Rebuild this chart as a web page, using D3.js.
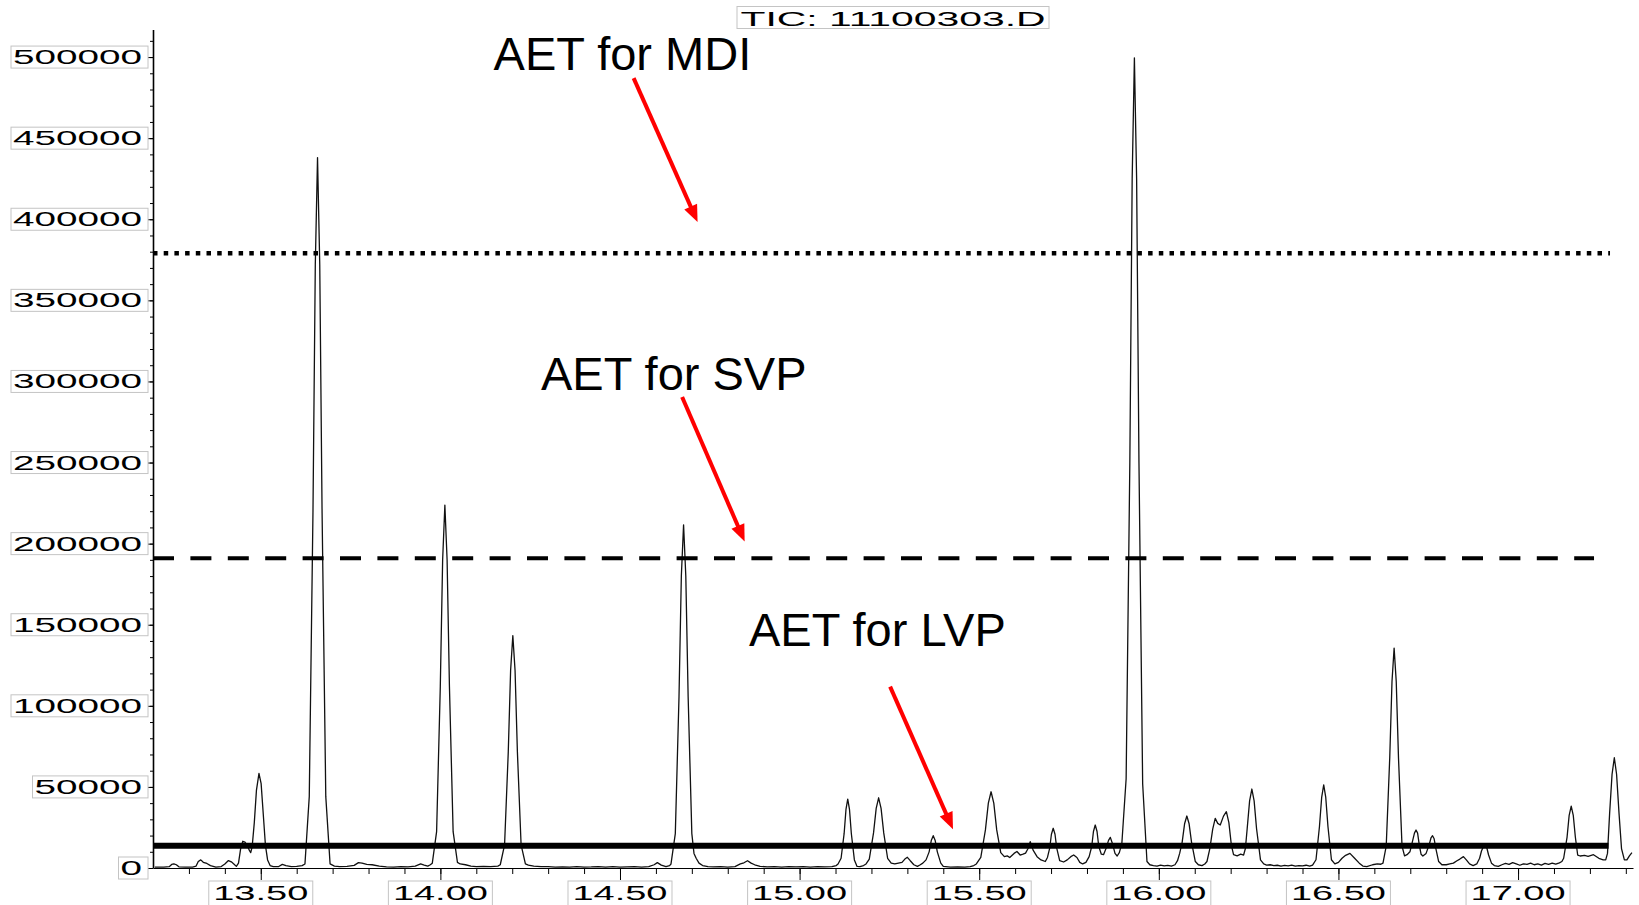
<!DOCTYPE html>
<html>
<head>
<meta charset="utf-8">
<script src="https://cdn.jsdelivr.net/npm/d3@7"></script>
<style>
  body { margin: 0; background: #fff; }
  svg { display: block; }
</style>
</head>
<body>
<svg id="chart" width="1639" height="905"></svg>
<script>
// TIC trace, [retention time (min), abundance]
const tic = [
  [13.205,500],[13.23,600],[13.245,800],[13.252,2200],[13.258,2600],[13.265,2000],[13.272,700],[13.29,500],
  [13.31,600],[13.32,1200],[13.326,4000],[13.333,5000],[13.34,3500],[13.35,2800],[13.36,1500],[13.375,600],
  [13.39,900],[13.40,2500],[13.41,4600],[13.418,3800],[13.425,2500],[13.432,1000],
  [13.438,3000],[13.444,12000],[13.45,16500],[13.456,16000],[13.462,14000],[13.468,11000],[13.472,9500],
  [13.476,13000],[13.482,28000],[13.488,48000],[13.495,58400],[13.501,52000],[13.507,33000],[13.513,14000],
  [13.519,5000],[13.526,1500],[13.535,800],[13.55,900],[13.56,2200],[13.57,1400],[13.585,900],[13.60,1000],[13.615,1500],
  [13.623,2500],[13.635,44000],[13.6453,219000],[13.6518,372000],[13.658,438000],[13.6642,372000],[13.6707,219000],
  [13.681,44000],[13.693,2500],
  [13.705,1200],[13.72,900],[13.74,1000],[13.76,1600],[13.772,3300],[13.782,3000],[13.795,2200],[13.81,2000],
  [13.83,1200],[13.85,700],[13.87,600],[13.89,800],[13.91,700],[13.93,1200],[13.945,2500],[13.955,1800],
  [13.965,1200],[13.972,2000],
  [13.9775,3000],[13.9895,22400],[13.9998,112000],[14.0063,190000],[14.0125,223800],[14.0187,190000],
  [14.0252,112000],[14.0355,22400],[14.0475,3500],[14.055,2500],[14.07,2000],[14.085,1200],[14.10,900],
  [14.12,1000],[14.14,800],[14.16,1200],
  [14.1667,2000],[14.1787,14300],[14.189,71600],[14.1955,121800],[14.2017,143300],[14.2079,121800],
  [14.2144,71600],[14.2247,14300],[14.2367,2500],
  [14.245,1800],[14.26,1200],[14.28,800],[14.30,900],[14.32,600],[14.34,700],[14.36,500],[14.38,900],
  [14.40,600],[14.42,700],[14.44,900],[14.46,600],[14.48,800],[14.50,500],[14.52,700],[14.54,900],
  [14.56,600],[14.58,800],[14.595,2000],[14.604,3300],[14.615,1800],[14.628,800],[14.638,1500],
  [14.642,2500],[14.654,21200],[14.6643,105800],[14.6708,180000],[14.677,211600],[14.6832,180000],
  [14.6897,105800],[14.70,21200],[14.706,9000],[14.712,6000],[14.72,3000],[14.73,1500],
  [14.745,900],[14.76,700],[14.78,800],[14.80,600],[14.82,900],[14.835,2500],[14.845,3200],[14.855,4500],
  [14.865,3000],[14.875,2000],[14.89,1000],[14.91,700],[14.93,800],[14.95,600],[14.97,900],[14.99,700],
  [15.01,800],[15.03,600],[15.05,900],[15.07,700],[15.09,800],[15.102,1500],
  [15.107,2500],[15.1155,6000],[15.124,21300],[15.1291,36100],[15.134,42500],[15.1389,36100],[15.144,21300],
  [15.1525,5000],[15.16,1000],[15.168,800],[15.178,1500],
  [15.185,2500],[15.194,5500],[15.2058,21650],[15.2132,36800],[15.22,43300],[15.2268,36800],[15.2342,21650],
  [15.245,6000],[15.255,3000],[15.265,2500],[15.275,3000],[15.285,3500],[15.293,5500],[15.30,6600],
  [15.308,4500],[15.318,2000],[15.328,1000],[15.336,2000],
  [15.343,3000],[15.352,5000],[15.3606,9950],[15.3665,16900],[15.372,19900],[15.3775,16900],[15.3834,9950],
  [15.393,3000],[15.40,1000],[15.42,600],[15.44,700],[15.46,500],[15.475,900],[15.485,1500],
  [15.492,2500],[15.5044,6500],[15.5173,23500],[15.5254,40000],[15.533,47000],[15.5406,40000],[15.5487,23500],
  [15.56,9500],[15.57,7000],[15.578,7500],
  [15.585,6500],[15.597,9000],[15.605,10200],[15.614,8000],[15.622,8500],[15.629,9200],[15.636,12000],
  [15.642,16200],[15.65,11000],[15.661,7000],[15.672,5000],[15.684,4000],[15.69,6500],
  [15.6962,12250],[15.701,20800],[15.706,24500],[15.711,20800],[15.7158,12250],[15.724,4500],[15.735,3700],
  [15.745,5000],[15.755,7000],[15.763,8000],[15.772,6500],[15.78,3500],[15.788,2500],[15.797,3500],
  [15.806,7000],[15.8132,13250],[15.818,22500],[15.823,26500],[15.828,22500],[15.8328,13250],[15.84,8500],
  [15.846,8200],[15.853,12000],[15.86,17000],[15.865,18900],[15.871,15000],[15.878,9000],[15.884,7400],[15.89,9500],
  [15.897,15000],[15.909,55000],[15.9193,250000],[15.9258,425000],[15.932,499500],[15.9382,425000],
  [15.9447,250000],[15.955,52000],[15.967,4000],[15.975,2000],
  [15.985,1500],[15.995,1200],[16.005,1800],[16.015,1300],[16.025,1600],[16.035,1200],[16.045,2000],[16.052,4500],
  [16.058,9000],[16.065,16000],[16.0717,27250],[16.078,32060],[16.0843,27250],[16.091,16000],[16.1016,4000],
  [16.11,2000],[16.12,1500],[16.128,2500],
  [16.134,4000],[16.142,12000],[16.15,24000],[16.157,30600],[16.164,27500],[16.171,26500],[16.18,32000],
  [16.188,34700],[16.195,28000],[16.202,14000],[16.208,8200],[16.218,7500],[16.228,8500],[16.236,8000],
  [16.241,12000],[16.246,24350],[16.2527,41400],[16.259,48700],[16.2653,41400],[16.272,24350],[16.283,5000],
  [16.292,2500],[16.30,1800],
  [16.31,2000],[16.32,1500],[16.33,1700],[16.34,1200],[16.35,1600],[16.36,1300],[16.37,1800],[16.38,1200],
  [16.39,1500],[16.40,1300],[16.41,1700],[16.42,1100],[16.428,1800],
  [16.4375,5100],[16.4472,25600],[16.4533,43500],[16.459,51200],[16.4647,43500],[16.4708,25600],[16.4805,5100],
  [16.49,2500],[16.50,3500],[16.51,6000],[16.52,7800],[16.532,9000],[16.545,6000],[16.558,3000],[16.568,1200],
  [16.579,800],[16.595,2000],[16.608,2500],[16.618,2300],
  [16.624,3000],[16.633,13560],[16.6428,67800],[16.6491,115000],[16.655,135600],[16.6609,115000],
  [16.6672,67800],[16.677,13560],[16.684,7500],[16.691,8200],
  [16.699,10000],[16.7068,17000],[16.7116,21500],[16.716,23400],[16.7204,21500],[16.7252,14000],[16.73,8500],[16.735,7400],
  [16.744,9000],[16.7528,14500],[16.7576,18500],[16.762,19900],[16.7664,18000],[16.7712,12000],[16.779,4000],[16.788,2000],
  [16.80,2000],[16.81,2500],[16.82,3000],[16.83,4500],[16.838,5500],[16.848,7000],[16.856,5000],[16.865,2500],
  [16.875,1500],[16.885,2500],[16.893,6000],
  [16.8982,10500],[16.903,13000],[16.908,14200],[16.913,12500],[16.918,8000],[16.926,3000],[16.934,1500],
  [16.945,1000],[16.955,2000],[16.965,2800],[16.975,2200],[16.985,3300],[16.995,2500],[17.005,1700],[17.015,2600],
  [17.025,2200],[17.035,3000],[17.045,2000],[17.055,2500],[17.065,1800],[17.075,2800],[17.085,2200],[17.095,3000],
  [17.105,2400],[17.115,3200],[17.122,4000],
  [17.127,6000],[17.1365,19100],[17.1423,32500],[17.148,38200],[17.1537,32500],[17.1595,19100],[17.166,8000],
  [17.173,7400],[17.185,7800],[17.195,7200],[17.21,8200],[17.225,6000],[17.237,5000],
  [17.244,5000],[17.249,9000],[17.255,34000],[17.2617,57800],[17.268,68000],[17.2743,57800],[17.281,34000],
  [17.288,12000],[17.296,5000],[17.303,5000],[17.31,7500],[17.317,9500]
];

const yTicks = d3.range(0, 500001, 50000);
const yMinor = d3.range(0, 517000, 10000);
const xTicks = [13.5, 14.0, 14.5, 15.0, 15.5, 16.0, 16.5, 17.0];
const xMinor = d3.range(133, 174).map(d => d / 10);
const title = "TIC: 11100303.D";

// analytical evaluation thresholds
const aetNames = ["MDI", "SVP", "LVP"];
const aetValues = [379000, 191000, 13700];
const aetEnds = [17.256, 17.2115, 17.252];

// annotation anchors in data units: label, arrow tail, arrow tip
const noteAt = [[14.148, 492000], [14.280, 294700], [14.859, 136900]];
const arrowFrom = [[14.538, 487000], [14.673, 290400], [15.252, 111800]];
const arrowTo = [[14.716, 398250], [14.847, 201300], [15.427, 23860]];

const FONT = "'Liberation Sans', Arial, sans-serif";
const svg = d3.select("#chart");

const x = d3.scaleLinear().domain([13.2, 17.32]).range([153, 1633]);
const y = d3.scaleLinear().domain([0, 517000]).range([868, 29.5]);

// trace
svg.append("path")
  .datum(tic)
  .attr("d", d3.line().x(d => x(d[0])).y(d => y(d[1])))
  .attr("fill", "none")
  .attr("stroke", "#111")
  .attr("stroke-width", 1.3)
  .attr("stroke-linejoin", "round");

// threshold lines
const aetDash = { MDI: "4.5,6.2", SVP: "21,16.4", LVP: null };
const aetWidth = { MDI: 4.5, SVP: 4, LVP: 6 };
aetNames.forEach((n, i) => {
  svg.append("line")
    .attr("x1", x(13.2)).attr("x2", x(aetEnds[i]))
    .attr("y1", y(aetValues[i])).attr("y2", y(aetValues[i]))
    .attr("stroke", "#000")
    .attr("stroke-width", aetWidth[n])
    .attr("stroke-dasharray", aetDash[n]);
});

// y axis
svg.append("g")
  .attr("transform", `translate(${x(13.2)},0)`)
  .call(d3.axisLeft(y).tickValues(yMinor).tickSize(3).tickSizeOuter(0).tickFormat(""))
  .call(g => g.select(".domain").attr("stroke-width", 1.6));
svg.append("g")
  .attr("transform", `translate(${x(13.2)},0)`)
  .call(d3.axisLeft(y).tickValues(yTicks).tickSize(6).tickSizeOuter(0).tickFormat(""))
  .call(g => g.select(".domain").remove());

// x axis
svg.append("g")
  .attr("transform", `translate(0,${y(0)})`)
  .call(d3.axisBottom(x).tickValues(xMinor).tickSize(6).tickSizeOuter(0).tickFormat(""));
svg.append("g")
  .attr("transform", `translate(0,${y(0)})`)
  .call(d3.axisBottom(x).tickValues(xTicks).tickSize(12).tickSizeOuter(0).tickFormat(""))
  .call(g => g.select(".domain").remove());

// boxed y labels
const yl = svg.append("g").selectAll("g").data(yTicks).join("g")
  .attr("transform", d => `translate(0,${y(d)})`);
yl.append("rect")
  .attr("x", d => 142 - String(d).length * 21.5 - 2)
  .attr("y", -11)
  .attr("width", d => String(d).length * 21.5 + 8)
  .attr("height", 22)
  .attr("fill", "#fff").attr("stroke", "#c4c4c4").attr("stroke-width", 1);
yl.append("text")
  .attr("x", 142).attr("y", 7)
  .attr("text-anchor", "end")
  .attr("font-family", FONT).attr("font-size", 20)
  .attr("textLength", d => String(d).length * 21.5)
  .attr("lengthAdjust", "spacingAndGlyphs")
  .text(d => String(d));

// boxed x labels
const xl = svg.append("g").selectAll("g").data(xTicks).join("g")
  .attr("transform", d => `translate(${x(d)},0)`);
xl.append("rect")
  .attr("x", -52).attr("y", 881)
  .attr("width", 104).attr("height", 26)
  .attr("fill", "#fff").attr("stroke", "#c4c4c4").attr("stroke-width", 1);
xl.append("text")
  .attr("x", 0).attr("y", 899.5)
  .attr("text-anchor", "middle")
  .attr("font-family", FONT).attr("font-size", 20)
  .attr("textLength", 95)
  .attr("lengthAdjust", "spacingAndGlyphs")
  .text(d => d.toFixed(2));

// title box
const tx = (x.range()[0] + x.range()[1]) / 2;
svg.append("rect")
  .attr("x", tx - 156).attr("y", 6.5)
  .attr("width", 312).attr("height", 22)
  .attr("fill", "#fff").attr("stroke", "#c4c4c4");
svg.append("text")
  .attr("x", tx).attr("y", 26)
  .attr("text-anchor", "middle")
  .attr("font-family", FONT).attr("font-size", 20)
  .attr("textLength", 305)
  .attr("lengthAdjust", "spacingAndGlyphs")
  .text(title);

// annotations
aetNames.forEach((n, i) => {
  svg.append("text")
    .attr("x", x(noteAt[i][0])).attr("y", y(noteAt[i][1]))
    .attr("font-family", FONT).attr("font-size", 47)
    .attr("fill", "#000")
    .text(`AET for ${n}`);

  const x1 = x(arrowFrom[i][0]), y1 = y(arrowFrom[i][1]);
  const x2 = x(arrowTo[i][0]), y2 = y(arrowTo[i][1]);
  const L = Math.hypot(x2 - x1, y2 - y1);
  const ux = (x2 - x1) / L, uy = (y2 - y1) / L;
  const hl = 17, hw = 7;
  const bx = x2 - ux * hl, by = y2 - uy * hl;
  svg.append("line")
    .attr("x1", x1).attr("y1", y1)
    .attr("x2", bx + ux * 2).attr("y2", by + uy * 2)
    .attr("stroke", "#ff0000").attr("stroke-width", 4);
  svg.append("path")
    .attr("d", `M${x2},${y2}L${bx - uy * hw},${by + ux * hw}L${bx + uy * hw},${by - ux * hw}Z`)
    .attr("fill", "#ff0000");
});
</script>
</body>
</html>
